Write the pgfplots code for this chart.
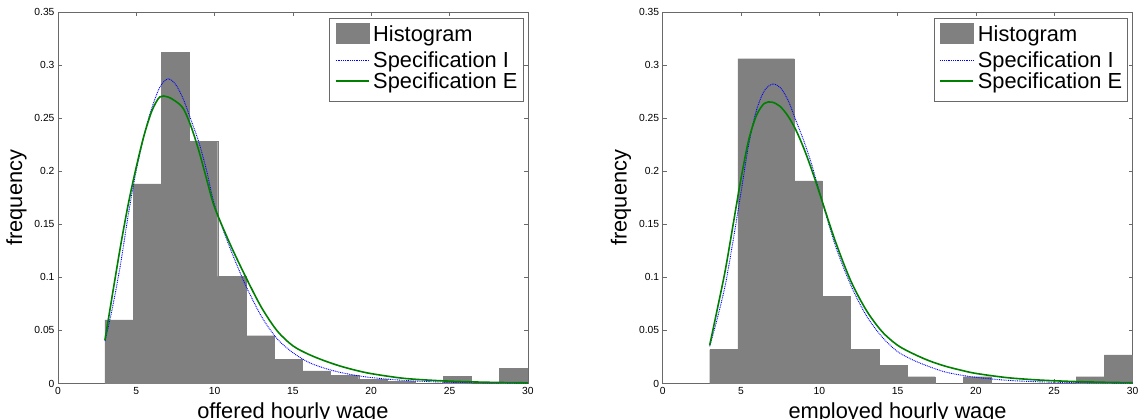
\documentclass[border=0pt]{standalone}
\usepackage{fontspec}
\setmainfont{Liberation Sans}
\usepackage{pgfplots}
\pgfplotsset{compat=1.18}
\definecolor{histgray}{RGB}{128,128,128}
\definecolor{spece}{RGB}{0,128,0}
\definecolor{axgray}{RGB}{105,105,105}
\newcommand\tickfont{\fontsize{10.3}{12}\selectfont}
\newcommand\bigfont{\fontsize{21.8}{25}\selectfont}
% struts give the legend rows the spacing of the original
\newcommand\rowA{\rule[-10.4pt]{0pt}{28.4pt}}
\newcommand\rowB{\rule[-5pt]{0pt}{20.6pt}}
\newcommand\rowC{\rule[-9pt]{0pt}{25pt}}

\pgfplotsset{
  wagehist/.style={
    scale only axis, width=469.8pt, height=371.5pt, anchor=south west,
    xmin=0, xmax=30, ymin=0, ymax=0.35,
    xtick={0,5,10,15,20,25,30},
    ytick={0,0.05,0.1,0.15,0.2,0.25,0.3,0.35},
    tick pos=both, tick align=inside, major tick length=4pt,
    axis line style={draw=axgray, line width=0.6pt},
    tick style={draw=axgray, line width=0.6pt},
    ticklabel style={font=\tickfont},
    /pgf/number format/assume math mode=true,
    yticklabel style={/pgf/number format/fixed, /pgf/number format/precision=2},
    xlabel style={font=\bigfont, at={(axis description cs:0.5,-0.0929)}, anchor=base},
    ylabel style={font=\bigfont, at={(axis description cs:-0.0766,0.5)}, anchor=base},
    ylabel={frequency},
    legend cell align=left,
    legend style={at={(1,1)}, anchor=north east, xshift=-4.8pt, yshift=-6.3pt,
      draw=axgray, line width=0.5pt, font=\bigfont,
      inner xsep=5.3pt, inner ysep=4.4pt, row sep=0pt, column sep=3.7pt,
      nodes={inner sep=0pt, text depth={}, text height={}}},
  },
  histbars/.style={ybar, bar width=1.8, bar shift=0pt, fill=histgray, draw=histgray, line width=0.3pt,
    legend image code/.code={\fill[histgray] (0pt,-5.8pt) rectangle (33pt,14.2pt);}},
  specI/.style={blue, line width=0.9pt, dash pattern=on 0.9pt off 0.9pt, smooth,
    legend image code/.code={\draw[##1] (0pt,1.7pt) -- (33pt,1.7pt);}},
  specE/.style={spece, line width=1.6pt, smooth,
    legend image code/.code={\draw[##1] (0pt,3.5pt) -- (33pt,3.5pt);}},
}

\begin{document}
\begin{tikzpicture}
\useasboundingbox (0,0) rectangle (1138pt,419pt);

% offered wage
\begin{axis}[wagehist, at={(58pt,35.5pt)}, xlabel={offered hourly wage}]
\addplot[histbars] coordinates {
  (3.9,0.060) (5.7,0.188) (7.5,0.312) (9.3,0.228) (11.1,0.101) (12.9,0.045)
  (14.7,0.023) (16.5,0.012) (18.3,0.008) (20.1,0.004) (21.9,0.002) (25.5,0.007) (29.1,0.014)
};
\addlegendentry{\rowA Histogram}
\addplot[specI] coordinates {
  (3,0.040) (3.5,0.073) (4,0.113) (4.5,0.160) (5,0.201) (5.5,0.234) (6,0.260) (6.5,0.279)
  (7,0.287) (7.5,0.282) (8,0.268) (8.5,0.248) (9,0.227) (9.5,0.200) (10,0.168) (11,0.127)
  (12,0.092) (13,0.063) (14,0.042) (15,0.029) (16,0.020) (17,0.0145) (18,0.0105) (19,0.0077)
  (20,0.0056) (22,0.003) (24,0.0016) (26,0.0009) (28,0.0005) (30,0.0003)
};
\addlegendentry{\rowB Specification I}
\addplot[specE] coordinates {
  (3,0.041) (3.5,0.086) (4,0.130) (4.5,0.170) (5,0.204) (5.5,0.234) (6,0.257) (6.5,0.270)
  (7,0.270) (7.5,0.266) (8,0.259) (8.5,0.242) (9,0.219) (9.5,0.192) (10,0.166) (11,0.131)
  (12,0.100) (13,0.0715) (14,0.0495) (15,0.0355) (16,0.0275) (17,0.0215) (18,0.0165) (19,0.0125)
  (20,0.0093) (22,0.005) (24,0.0029) (26,0.0017) (28,0.001) (30,0.0006)
};
\addlegendentry{\rowC Specification E}
\end{axis}

% employed wage
\begin{axis}[wagehist, at={(662.7pt,35.5pt)}, xlabel={employed hourly wage}]
\addplot[histbars] coordinates {
  (3.9,0.032) (5.7,0.306) (7.5,0.306) (9.3,0.191) (11.1,0.082) (12.9,0.032)
  (14.7,0.017) (16.5,0.0064) (20.1,0.0064) (27.3,0.0064) (29.1,0.027)
};
\addlegendentry{\rowA Histogram}
\addplot[specI] coordinates {
  (3,0.035) (3.5,0.062) (4,0.093) (4.5,0.135) (5,0.180) (5.5,0.226) (6,0.258) (6.5,0.276)
  (7,0.282) (7.5,0.279) (8,0.267) (8.5,0.248) (9,0.229) (9.5,0.207) (10,0.181) (11,0.131)
  (12,0.093) (13,0.064) (14,0.044) (15,0.030) (16,0.022) (17,0.016) (18,0.011) (19,0.008)
  (20,0.0058) (22,0.003) (24,0.0016) (26,0.0009) (28,0.0005) (30,0.0003)
};
\addlegendentry{\rowB Specification I}
\addplot[specE] coordinates {
  (3,0.036) (3.5,0.071) (4,0.107) (4.5,0.150) (5,0.193) (5.5,0.230) (6,0.253) (6.5,0.264)
  (7,0.265) (7.5,0.261) (8,0.252) (8.5,0.239) (9,0.222) (9.5,0.202) (10,0.180) (11,0.135)
  (12,0.097) (13,0.069) (14,0.049) (15,0.036) (16,0.028) (17,0.0215) (18,0.0165) (19,0.0127)
  (20,0.0095) (22,0.0055) (24,0.0033) (26,0.002) (28,0.0012) (30,0.0007)
};
\addlegendentry{\rowC Specification E}
\end{axis}
\end{tikzpicture}
\end{document}
